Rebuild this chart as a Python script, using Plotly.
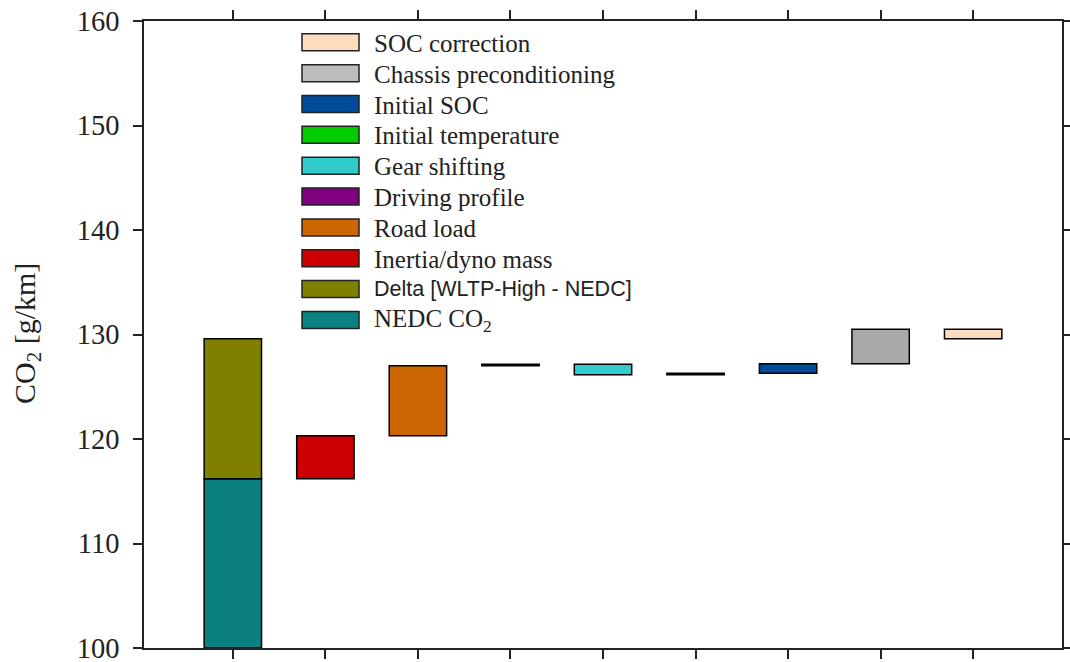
import plotly.graph_objects as go

# ---- data ----
categories = ["NEDC CO<sub>2</sub>", "Inertia/dyno mass", "Road load", "Driving profile",
              "Gear shifting", "Initial temperature", "Initial SOC",
              "Chassis preconditioning", "SOC correction"]
nedc_co2 = 116.2
delta_wltp_nedc = 13.4          # stacked on the NEDC bar (top ~129.6)
step_changes = [4.1, 6.7, 0.15, -1.0, 0.15, 0.9, 3.3, -0.9]   # inertia ... SOC correction
step_names = ["Inertia/dyno mass", "Road load", "Driving profile", "Gear shifting",
              "Initial temperature", "Initial SOC", "Chassis preconditioning", "SOC correction"]
step_colors = ["#cc0000", "#cc6600", "#800080", "#33cccc", "#00cc00", "#004c99", "#a9a9a9", "#fcdcbc"]
nedc_color = "#0a8080"
delta_color = "#808000"

legend_labels = ["SOC correction", "Chassis preconditioning", "Initial SOC", "Initial temperature",
                 "Gear shifting", "Driving profile", "Road load", "Inertia/dyno mass",
                 "Delta [WLTP-High - NEDC]", "NEDC CO<sub>2</sub>"]
legend_colors = ["#fcdcbc", "#bdbdbd", "#004c99", "#00cc00", "#33cccc", "#800080",
                 "#cc6600", "#cc0000", "#808000", "#0a8080"]

y_min, y_max = 100, 160
y_ticks = [100, 110, 120, 130, 140, 150, 160]
y_title = "CO<sub>2</sub> [g/km]"

# ---- figure ----
W, H = 1070, 662
L, R, T, B = 144, 8, 21, 14
pw, ph = W - L - R, H - T - B
SERIF = "Liberation Serif, Times New Roman, serif"
SANS = "Liberation Sans, Arial, sans-serif"
INK = "#222222"

def px(xp):
    return (xp - L) / pw

def py(yp):
    return (H - B - yp) / ph

fig = go.Figure()
bw = 0.62
line = dict(color="black", width=1.5)

# first column: NEDC + delta
fig.add_trace(go.Bar(x=[0], y=[nedc_co2 - y_min], base=[y_min], width=bw,
                     marker=dict(color=nedc_color, line=line), name="NEDC CO2",
                     showlegend=False))
fig.add_trace(go.Bar(x=[0], y=[delta_wltp_nedc], base=[nedc_co2], width=bw,
                     marker=dict(color=delta_color, line=line), name="Delta [WLTP-High - NEDC]",
                     showlegend=False))

level = nedc_co2
for i, (d, nm, c) in enumerate(zip(step_changes, step_names, step_colors)):
    lo = min(level, level + d)
    fig.add_trace(go.Bar(x=[i + 1], y=[abs(d)], base=[lo], width=bw,
                         marker=dict(color=c, line=line), name=nm, showlegend=False))
    level += d

# custom legend (wide swatches)
row0, dy, sh = 42.3, 30.85, 17
for i, (lab, col) in enumerate(zip(legend_labels, legend_colors)):
    yc = row0 + i * dy
    fig.add_shape(type="rect", xref="paper", yref="paper",
                  x0=px(302), x1=px(359), y0=py(yc + sh / 2), y1=py(yc - sh / 2),
                  fillcolor=col, line=dict(color=INK, width=1.5))
    is_delta = lab.startswith("Delta")
    fig.add_annotation(xref="paper", yref="paper", x=px(372), y=py(yc + (0 if is_delta else 1)),
                       text=lab, showarrow=False, xanchor="left", yanchor="middle",
                       font=dict(family=SANS if is_delta else SERIF,
                                 size=21.5 if is_delta else 25, color=INK))

# y-axis title
fig.add_annotation(xref="paper", yref="paper", x=px(27), y=py(334), text=y_title,
                   textangle=-90, showarrow=False, xanchor="center", yanchor="middle",
                   font=dict(family=SERIF, size=30, color=INK))

fig.update_layout(
    width=W, height=H,
    margin=dict(l=L, r=R, t=T, b=B),
    paper_bgcolor="white", plot_bgcolor="white",
    barmode="overlay",
    font=dict(family=SERIF, color=INK),
)
fig.update_xaxes(range=[-0.96, 8.96], tickvals=list(range(9)), showticklabels=False,
                 ticks="outside", ticklen=9, tickwidth=1.5, tickcolor=INK,
                 showline=True, linecolor=INK, linewidth=1.5, mirror="ticks",
                 showgrid=False, zeroline=False, automargin=False)
fig.update_yaxes(range=[y_min, y_max], tickvals=y_ticks,
                 ticks="outside", ticklen=9, tickwidth=1.5, tickcolor=INK,
                 showline=True, linecolor=INK, linewidth=1.5, mirror="ticks",
                 showgrid=False, zeroline=False, automargin=False,
                 ticklabeloverflow="allow",
                 tickfont=dict(size=28.5, family=SERIF, color=INK),
                 ticklabelstandoff=8)

fig.write_html("out.html", config={"displayModeBar": False},
               post_script="document.body.style.margin='0';document.body.style.overflow='hidden';")
